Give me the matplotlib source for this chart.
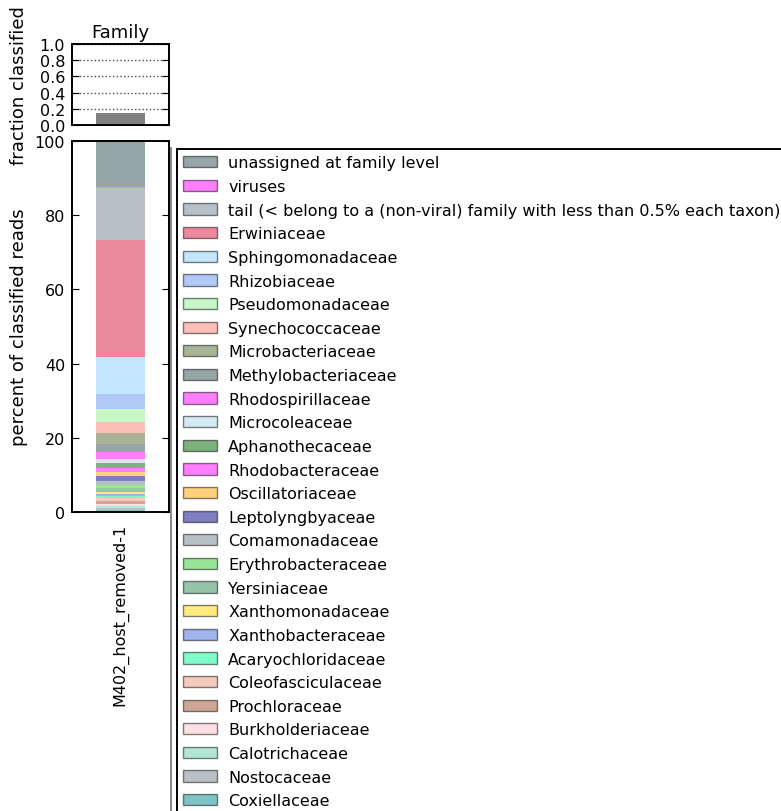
import matplotlib
matplotlib.use("Agg")
import matplotlib.pyplot as plt
from matplotlib.patches import Patch
from matplotlib.lines import Line2D

# --- data ---
sample = "M402_host_removed-1"
frac_classified = 0.145

families = [
    "unassigned at family level", "viruses",
    "tail (< belong to a (non-viral) family with less than 0.5% each taxon)",
    "Erwiniaceae", "Sphingomonadaceae", "Rhizobiaceae", "Pseudomonadaceae",
    "Synechococcaceae", "Microbacteriaceae", "Methylobacteriaceae",
    "Rhodospirillaceae", "Microcoleaceae", "Aphanothecaceae", "Rhodobacteraceae",
    "Oscillatoriaceae", "Leptolyngbyaceae", "Comamonadaceae", "Erythrobacteraceae",
    "Yersiniaceae", "Xanthomonadaceae", "Xanthobacteraceae", "Acaryochloridaceae",
    "Coleofasciculaceae", "Prochloraceae", "Burkholderiaceae", "Calotrichaceae",
    "Nostocaceae", "Coxiellaceae",
]
percents = [12.4, 0.3, 14.0, 31.5, 10.0, 4.0, 3.5, 3.0, 3.0, 2.1, 1.9, 1.1, 1.3, 1.1,
            1.1, 1.3, 1.1, 0.8, 1.1, 0.5, 0.6, 0.5, 0.8, 0.8, 0.6, 0.5, 0.5, 0.6]
colors = ["darkslategray", "magenta", "slategray", "crimson", "lightskyblue",
          "cornflowerblue", "lightgreen", "salmon", "darkolivegreen", "darkslategray",
          "magenta", "lightblue", "darkgreen", "magenta", "orange", "navy",
          "slategray", "limegreen", "seagreen", "gold", "royalblue",
          "mediumspringgreen", "darksalmon", "sienna", "pink", "mediumaquamarine",
          "slategray", "darkcyan"]

W, H = 781, 812
fig = plt.figure(figsize=(W / 100, H / 100), dpi=100)
ax_top = fig.add_axes([72 / W, 1 - 126 / H, 97 / W, 81 / H])
ax_bot = fig.add_axes([72 / W, 1 - 513 / H, 97 / W, 371 / H])

for ax in (ax_top, ax_bot):
    for s in ax.spines.values():
        s.set_linewidth(1.4)
    ax.tick_params(axis="y", direction="in", left=True, right=True, length=5,
                   labelsize=11.5, pad=5)
    ax.set_xlim(-0.5, 0.5)

# top: fraction classified
ax_top.bar([0], [frac_classified], width=0.5, color="0.5", linewidth=0)
ax_top.set_ylim(0, 1)
ax_top.set_yticks([0.0, 0.2, 0.4, 0.6, 0.8, 1.0])
ax_top.set_yticklabels(["0.0", "0.2", "0.4", "0.6", "0.8", "1.0"])
ax_top.yaxis.grid(True, linestyle=":", color="0.3", linewidth=1)
ax_top.set_axisbelow(True)
ax_top.set_xticks([])
ax_top.set_title("Family", fontsize=13, pad=5)
ax_top.set_ylabel("fraction classified", fontsize=13)
ax_top.yaxis.set_label_coords(-0.454, 0.5)

# bottom: stacked percentages, last family at the bottom
bottom = 0.0
for name, p, c in reversed(list(zip(families, percents, colors))):
    ax_bot.bar([0], [p], bottom=bottom, width=0.5, color=c, alpha=0.5, linewidth=0)
    bottom += p
ax_bot.set_ylim(0, 100)
ax_bot.set_yticks([0, 20, 40, 60, 80, 100])
ax_bot.set_xticks([0])
ax_bot.set_xticklabels([sample], rotation=90, fontsize=11.5)
ax_bot.tick_params(axis="x", length=0, pad=8)
ax_bot.set_ylabel("percent of classified reads", fontsize=13)
ax_bot.yaxis.set_label_coords(-0.454, 0.5)

handles = [Patch(facecolor=c, edgecolor="black", alpha=0.5, linewidth=1)
           for c in colors]
leg = fig.legend(handles, families, loc="upper left",
                 bbox_to_anchor=(177 / W, 1 - 150 / H), borderaxespad=0,
                 fontsize=11.5, frameon=True, fancybox=False, framealpha=1,
                 handlelength=2.1, handletextpad=0.7, labelspacing=0.54,
                 borderpad=0.4)
leg.get_frame().set_edgecolor("black")
leg.get_frame().set_linewidth(1.4)

# thin grey line left of the legend box
fig.add_artist(Line2D([171 / W, 171 / W], [0, 1 - 149 / H], color="0.45",
                      linewidth=1.2, transform=fig.transFigure))

fig.savefig("out.png", dpi=100)
